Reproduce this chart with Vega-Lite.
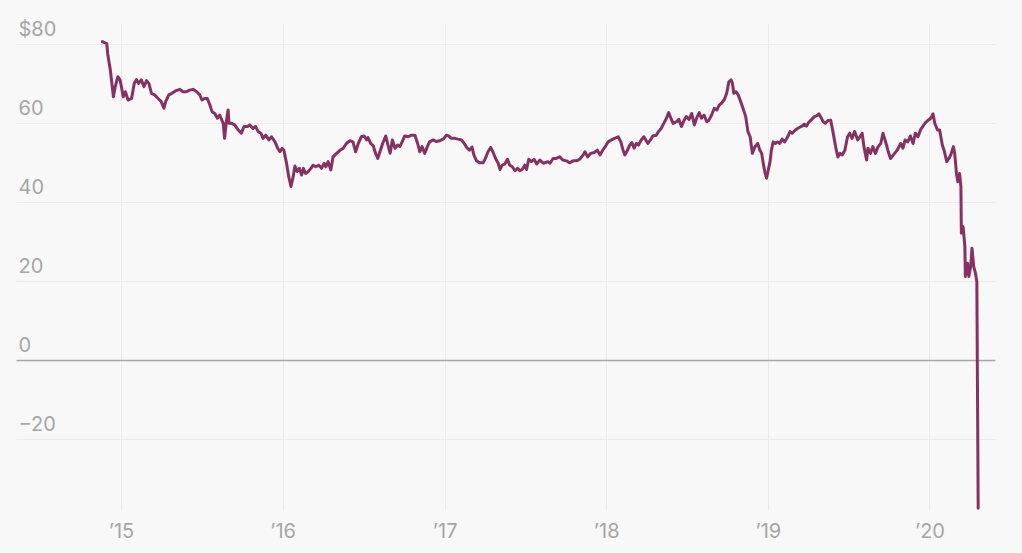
{
  "$schema": "https://vega.github.io/schema/vega-lite/v6.json",
  "width": 979,
  "height": 487,
  "autosize": {"type": "none"},
  "padding": {"left": 16, "top": 23, "right": 27, "bottom": 43},
  "background": "#f8f8f8",
  "config": {"view": {"stroke": null}, "font": "Inter"},
  "data": {"values": [
    {"date":"2014-11-20","price":80.5},{"date":"2014-11-30","price":80.0},{"date":"2014-12-02","price":77.5},{"date":"2014-12-08","price":73.3},{"date":"2014-12-15","price":66.5},{"date":"2014-12-19","price":69.0},{"date":"2014-12-25","price":71.6},{"date":"2014-12-30","price":70.8},
    {"date":"2015-01-02","price":69.1},{"date":"2015-01-06","price":66.5},{"date":"2015-01-11","price":67.8},{"date":"2015-01-17","price":65.7},{"date":"2015-01-25","price":66.1},{"date":"2015-01-31","price":69.9},{"date":"2015-02-05","price":70.9},{"date":"2015-02-10","price":69.9},{"date":"2015-02-16","price":70.8},{"date":"2015-02-22","price":69.1},{"date":"2015-02-28","price":70.6},{"date":"2015-03-05","price":69.9},{"date":"2015-03-11","price":67.4},{"date":"2015-03-18","price":67.0},{"date":"2015-03-26","price":66.1},{"date":"2015-04-02","price":65.3},{"date":"2015-04-08","price":63.6},{"date":"2015-04-12","price":65.3},{"date":"2015-04-19","price":67.0},{"date":"2015-04-26","price":67.4},{"date":"2015-05-04","price":68.0},{"date":"2015-05-14","price":68.4},{"date":"2015-05-21","price":67.8},{"date":"2015-05-29","price":67.8},{"date":"2015-06-05","price":68.2},{"date":"2015-06-13","price":68.4},{"date":"2015-06-21","price":67.8},{"date":"2015-06-28","price":67.0},{"date":"2015-07-03","price":65.7},{"date":"2015-07-09","price":66.1},
    {"date":"2015-07-15","price":66.1},{"date":"2015-07-21","price":64.4},{"date":"2015-07-26","price":62.7},{"date":"2015-08-01","price":62.3},{"date":"2015-08-07","price":61.1},{"date":"2015-08-12","price":61.9},{"date":"2015-08-20","price":59.8},{"date":"2015-08-23","price":56.0},{"date":"2015-08-27","price":60.2},{"date":"2015-08-31","price":63.2},{"date":"2015-09-02","price":59.8},{"date":"2015-09-08","price":59.8},{"date":"2015-09-15","price":59.4},{"date":"2015-09-23","price":58.1},{"date":"2015-09-30","price":57.3},{"date":"2015-10-06","price":59.0},{"date":"2015-10-14","price":59.0},{"date":"2015-10-19","price":59.4},{"date":"2015-10-26","price":58.5},{"date":"2015-11-01","price":59.0},{"date":"2015-11-07","price":57.7},{"date":"2015-11-13","price":57.3},{"date":"2015-11-18","price":56.0},{"date":"2015-11-24","price":56.8},{"date":"2015-12-01","price":55.6},{"date":"2015-12-07","price":56.4},{"date":"2015-12-15","price":55.1},{"date":"2015-12-21","price":53.5},{"date":"2015-12-26","price":52.6},{"date":"2015-12-31","price":53.5},
    {"date":"2016-01-04","price":53.0},{"date":"2016-01-10","price":49.7},{"date":"2016-01-15","price":46.3},{"date":"2016-01-20","price":43.8},{"date":"2016-01-25","price":46.3},{"date":"2016-01-29","price":49.0},{"date":"2016-02-03","price":47.6},{"date":"2016-02-08","price":48.4},{"date":"2016-02-13","price":46.7},{"date":"2016-02-17","price":48.4},{"date":"2016-02-22","price":47.1},{"date":"2016-02-28","price":47.6},{"date":"2016-03-05","price":48.4},{"date":"2016-03-10","price":49.2},{"date":"2016-03-16","price":48.8},{"date":"2016-03-23","price":49.2},{"date":"2016-03-29","price":48.4},{"date":"2016-04-04","price":49.7},
    {"date":"2016-04-08","price":48.8},{"date":"2016-04-13","price":50.1},{"date":"2016-04-19","price":48.0},{"date":"2016-04-24","price":51.3},{"date":"2016-05-02","price":52.2},{"date":"2016-05-09","price":52.9},{"date":"2016-05-17","price":53.5},{"date":"2016-05-24","price":54.7},{"date":"2016-06-01","price":55.4},{"date":"2016-06-08","price":55.1},{"date":"2016-06-14","price":52.6},{"date":"2016-06-20","price":54.7},{"date":"2016-06-27","price":56.4},{"date":"2016-07-03","price":56.6},{"date":"2016-07-09","price":55.6},{"date":"2016-07-12","price":56.2},{"date":"2016-07-18","price":54.7},{"date":"2016-07-24","price":54.1},{"date":"2016-07-29","price":52.2},{"date":"2016-08-03","price":50.9},{"date":"2016-08-08","price":52.6},{"date":"2016-08-14","price":54.7},{"date":"2016-08-21","price":56.6},{"date":"2016-08-25","price":54.7},{"date":"2016-08-31","price":52.2},{"date":"2016-09-05","price":55.6},{"date":"2016-09-11","price":53.5},{"date":"2016-09-17","price":54.3},{"date":"2016-09-22","price":53.9},{"date":"2016-09-27","price":55.1},{"date":"2016-10-03","price":56.6},{"date":"2016-10-11","price":56.4},{"date":"2016-10-18","price":56.8},{"date":"2016-10-26","price":56.8},{"date":"2016-11-01","price":54.7},{"date":"2016-11-06","price":52.6},{"date":"2016-11-11","price":53.9},{"date":"2016-11-17","price":52.2},{"date":"2016-11-23","price":53.9},{"date":"2016-11-28","price":55.1},{"date":"2016-12-06","price":55.6},
    {"date":"2016-12-13","price":55.2},{"date":"2016-12-21","price":55.4},{"date":"2016-12-29","price":55.8},{"date":"2017-01-05","price":56.8},{"date":"2017-01-10","price":56.6},{"date":"2017-01-16","price":56.0},{"date":"2017-01-24","price":56.0},{"date":"2017-01-31","price":55.8},{"date":"2017-02-08","price":55.6},{"date":"2017-02-15","price":54.6},{"date":"2017-02-21","price":53.5},{"date":"2017-02-26","price":53.0},{"date":"2017-03-04","price":53.8},{"date":"2017-03-08","price":51.8},{"date":"2017-03-14","price":50.3},{"date":"2017-03-21","price":49.8},{"date":"2017-03-29","price":49.8},{"date":"2017-04-03","price":50.9},{"date":"2017-04-09","price":52.6},{"date":"2017-04-15","price":53.7},{"date":"2017-04-20","price":52.6},{"date":"2017-04-26","price":50.9},{"date":"2017-05-02","price":49.7},{"date":"2017-05-06","price":48.1},{"date":"2017-05-11","price":49.2},{"date":"2017-05-17","price":49.5},{"date":"2017-05-23","price":50.7},{"date":"2017-05-28","price":49.2},{"date":"2017-06-03","price":48.8},{"date":"2017-06-09","price":47.8},{"date":"2017-06-15","price":48.4},{"date":"2017-06-20","price":47.8},{"date":"2017-06-25","price":48.1},{"date":"2017-07-01","price":49.2},{"date":"2017-07-05","price":48.1},{"date":"2017-07-10","price":50.7},{"date":"2017-07-16","price":50.1},{"date":"2017-07-22","price":50.7},{"date":"2017-07-28","price":49.5},{"date":"2017-08-04","price":50.5},{"date":"2017-08-12","price":49.7},
    {"date":"2017-08-22","price":50.1},{"date":"2017-08-27","price":49.7},{"date":"2017-09-03","price":50.9},{"date":"2017-09-10","price":50.9},{"date":"2017-09-18","price":51.3},{"date":"2017-09-25","price":50.5},{"date":"2017-10-03","price":50.3},{"date":"2017-10-10","price":49.8},{"date":"2017-10-18","price":50.3},{"date":"2017-10-26","price":50.3},{"date":"2017-11-02","price":50.7},{"date":"2017-11-10","price":51.8},{"date":"2017-11-14","price":52.6},{"date":"2017-11-20","price":51.3},{"date":"2017-11-27","price":52.2},{"date":"2017-12-05","price":52.4},{"date":"2017-12-12","price":53.0},{"date":"2017-12-18","price":51.8},{"date":"2017-12-24","price":53.0},{"date":"2017-12-31","price":54.1},
    {"date":"2018-01-05","price":55.1},{"date":"2018-01-13","price":55.6},{"date":"2018-01-20","price":56.0},{"date":"2018-01-28","price":56.4},{"date":"2018-02-03","price":55.1},{"date":"2018-02-08","price":53.0},{"date":"2018-02-12","price":51.8},{"date":"2018-02-18","price":53.0},{"date":"2018-02-23","price":54.3},{"date":"2018-02-28","price":54.9},{"date":"2018-03-05","price":53.5},{"date":"2018-03-10","price":54.7},{"date":"2018-03-15","price":54.3},{"date":"2018-03-21","price":55.6},{"date":"2018-03-27","price":56.4},
    {"date":"2018-03-29","price":56.0},{"date":"2018-04-05","price":54.7},{"date":"2018-04-11","price":55.6},{"date":"2018-04-16","price":56.6},{"date":"2018-04-24","price":56.8},{"date":"2018-04-29","price":57.7},{"date":"2018-05-05","price":58.5},{"date":"2018-05-11","price":59.8},{"date":"2018-05-17","price":61.1},{"date":"2018-05-22","price":62.5},{"date":"2018-05-27","price":61.1},{"date":"2018-06-01","price":59.8},{"date":"2018-06-09","price":60.2},{"date":"2018-06-14","price":60.8},{"date":"2018-06-20","price":59.0},{"date":"2018-06-26","price":60.6},{"date":"2018-07-01","price":61.5},{"date":"2018-07-07","price":60.8},{"date":"2018-07-13","price":62.3},{"date":"2018-07-19","price":59.4},{"date":"2018-07-24","price":61.1},{"date":"2018-07-30","price":62.5},{"date":"2018-08-04","price":61.1},{"date":"2018-08-10","price":61.9},{"date":"2018-08-16","price":60.2},{"date":"2018-08-21","price":60.6},{"date":"2018-08-27","price":61.9},{"date":"2018-09-02","price":63.6},{"date":"2018-09-08","price":63.2},{"date":"2018-09-13","price":64.4},{"date":"2018-09-19","price":65.0},{"date":"2018-09-25","price":65.9},{"date":"2018-09-30","price":67.4},{"date":"2018-10-05","price":70.3},{"date":"2018-10-10","price":70.8},{"date":"2018-10-13","price":70.0},{"date":"2018-10-16","price":67.4},{"date":"2018-10-21","price":67.8},{"date":"2018-10-26","price":67.0},{"date":"2018-11-02","price":64.9},{"date":"2018-11-07","price":63.2},{"date":"2018-11-12","price":61.5},{"date":"2018-11-17","price":57.7},{"date":"2018-11-22","price":56.4},{"date":"2018-11-27","price":52.2},{"date":"2018-12-03","price":53.9},{"date":"2018-12-09","price":54.7},{"date":"2018-12-14","price":53.0},{"date":"2018-12-18","price":52.2},{"date":"2018-12-21","price":50.1},{"date":"2018-12-25","price":47.6},{"date":"2018-12-29","price":45.9},
    {"date":"2019-01-02","price":48.0},{"date":"2019-01-06","price":50.1},{"date":"2019-01-09","price":53.0},{"date":"2019-01-13","price":55.1},{"date":"2019-01-18","price":54.7},{"date":"2019-01-23","price":55.1},{"date":"2019-01-28","price":54.7},{"date":"2019-02-02","price":55.8},{"date":"2019-02-08","price":55.1},{"date":"2019-02-14","price":56.2},{"date":"2019-02-20","price":57.7},{"date":"2019-02-25","price":57.3},{"date":"2019-03-03","price":58.0},{"date":"2019-03-09","price":58.5},{"date":"2019-03-14","price":58.8},{"date":"2019-03-19","price":59.1},{"date":"2019-03-24","price":59.6},{"date":"2019-03-29","price":59.1},{"date":"2019-04-03","price":60.0},{"date":"2019-04-10","price":60.8},{"date":"2019-04-16","price":61.5},{"date":"2019-04-21","price":61.7},{"date":"2019-04-26","price":62.2},{"date":"2019-05-01","price":61.3},{"date":"2019-05-06","price":60.2},{"date":"2019-05-11","price":59.8},{"date":"2019-05-17","price":60.5},{"date":"2019-05-23","price":60.6},{"date":"2019-05-28","price":57.7},{"date":"2019-06-03","price":53.9},{"date":"2019-06-08","price":51.3},{"date":"2019-06-13","price":52.2},{"date":"2019-06-18","price":51.8},{"date":"2019-06-24","price":53.0},{"date":"2019-06-30","price":56.4},{"date":"2019-07-05","price":57.3},{"date":"2019-07-10","price":56.0},{"date":"2019-07-16","price":57.7},{"date":"2019-07-23","price":55.6},{"date":"2019-07-28","price":56.4},{"date":"2019-08-02","price":57.3},{"date":"2019-08-06","price":53.9},{"date":"2019-08-12","price":50.5},{"date":"2019-08-15","price":53.5},{"date":"2019-08-21","price":52.2},{"date":"2019-08-26","price":53.9},{"date":"2019-09-01","price":52.2},{"date":"2019-09-07","price":53.9},{"date":"2019-09-13","price":54.7},{"date":"2019-09-18","price":57.3},{"date":"2019-09-24","price":55.1},{"date":"2019-09-29","price":53.0},{"date":"2019-10-05","price":50.9},{"date":"2019-10-13","price":52.0},{"date":"2019-10-20","price":53.0},{"date":"2019-10-28","price":54.7},{"date":"2019-11-02","price":53.5},{"date":"2019-11-07","price":55.6},{"date":"2019-11-13","price":55.1},{"date":"2019-11-19","price":56.6},{"date":"2019-11-25","price":54.7},{"date":"2019-11-30","price":57.3},{"date":"2019-12-06","price":56.4},{"date":"2019-12-12","price":58.2},{"date":"2019-12-17","price":59.0},{"date":"2019-12-23","price":60.0},{"date":"2019-12-28","price":60.5},
    {"date":"2020-01-04","price":61.1},{"date":"2020-01-09","price":62.2},{"date":"2020-01-13","price":59.8},{"date":"2020-01-19","price":58.1},{"date":"2020-01-24","price":58.1},{"date":"2020-01-30","price":54.3},{"date":"2020-02-03","price":53.0},{"date":"2020-02-09","price":50.1},{"date":"2020-02-14","price":50.9},{"date":"2020-02-18","price":51.8},{"date":"2020-02-24","price":53.9},{"date":"2020-02-27","price":52.2},{"date":"2020-03-02","price":47.1},{"date":"2020-03-05","price":45.0},{"date":"2020-03-09","price":47.1},{"date":"2020-03-12","price":43.8},{"date":"2020-03-13","price":32.0},{"date":"2020-03-17","price":33.6},{"date":"2020-03-21","price":28.6},{"date":"2020-03-22","price":21.0},{"date":"2020-03-27","price":24.4},{"date":"2020-03-30","price":21.0},{"date":"2020-04-03","price":23.5},{"date":"2020-04-06","price":28.2},{"date":"2020-04-10","price":23.5},{"date":"2020-04-14","price":21.8},{"date":"2020-04-17","price":19.7},{"date":"2020-04-20","price":-37.63}
  ]},
  "mark": {"type": "line", "color": "#873062", "strokeWidth": 3, "strokeJoin": "round", "strokeCap": "round"},
  "encoding": {
    "x": {
      "field": "date", "type": "temporal",
      "scale": {"type": "utc", "nice": false, "domain": [{"year": 2014, "month": 5, "date": 9, "utc": true}, {"year": 2020, "month": 5, "date": 28, "utc": true}]},
      "axis": {
        "title": null, "domain": false, "ticks": false, "tickSize": 0,
        "values": [{"year": 2015, "month": 1, "date": 1, "utc": true}, {"year": 2016, "month": 1, "date": 1, "utc": true}, {"year": 2017, "month": 1, "date": 1, "utc": true}, {"year": 2018, "month": 1, "date": 1, "utc": true}, {"year": 2019, "month": 1, "date": 1, "utc": true}, {"year": 2020, "month": 1, "date": 1, "utc": true}],
        "labelExpr": "'\u2019' + utcFormat(datum.value, '%y')",
        "labelPadding": 11, "labelBaseline": "top", "labelFontSize": 20, "labelColor": "#a6a6a6",
        "labelFlush": false, "labelOverlap": false,
        "grid": true, "gridColor": "#ebebeb", "gridWidth": 1
      }
    },
    "y": {
      "field": "price", "type": "quantitative",
      "scale": {"domain": [-38.1, 85.2], "nice": false, "zero": false},
      "axis": {
        "title": null, "domain": false, "ticks": false, "tickSize": 0,
        "values": [-20, 0, 20, 40, 60, 80],
        "labelExpr": "datum.value === 80 ? '$80' : datum.label",
        "labelAlign": "left", "labelPadding": -2, "labelBaseline": "alphabetic", "labelOffset": -8,
        "labelFontSize": 20, "labelColor": "#a6a6a6", "labelOverlap": false, "labelFlush": false,
        "grid": true,
        "gridColor": {"condition": {"test": "datum.value === 0", "value": "#a8a8a8"}, "value": "#ebebeb"},
        "gridWidth": {"condition": {"test": "datum.value === 0", "value": 1.5}, "value": 1}
      }
    }
  }
}
